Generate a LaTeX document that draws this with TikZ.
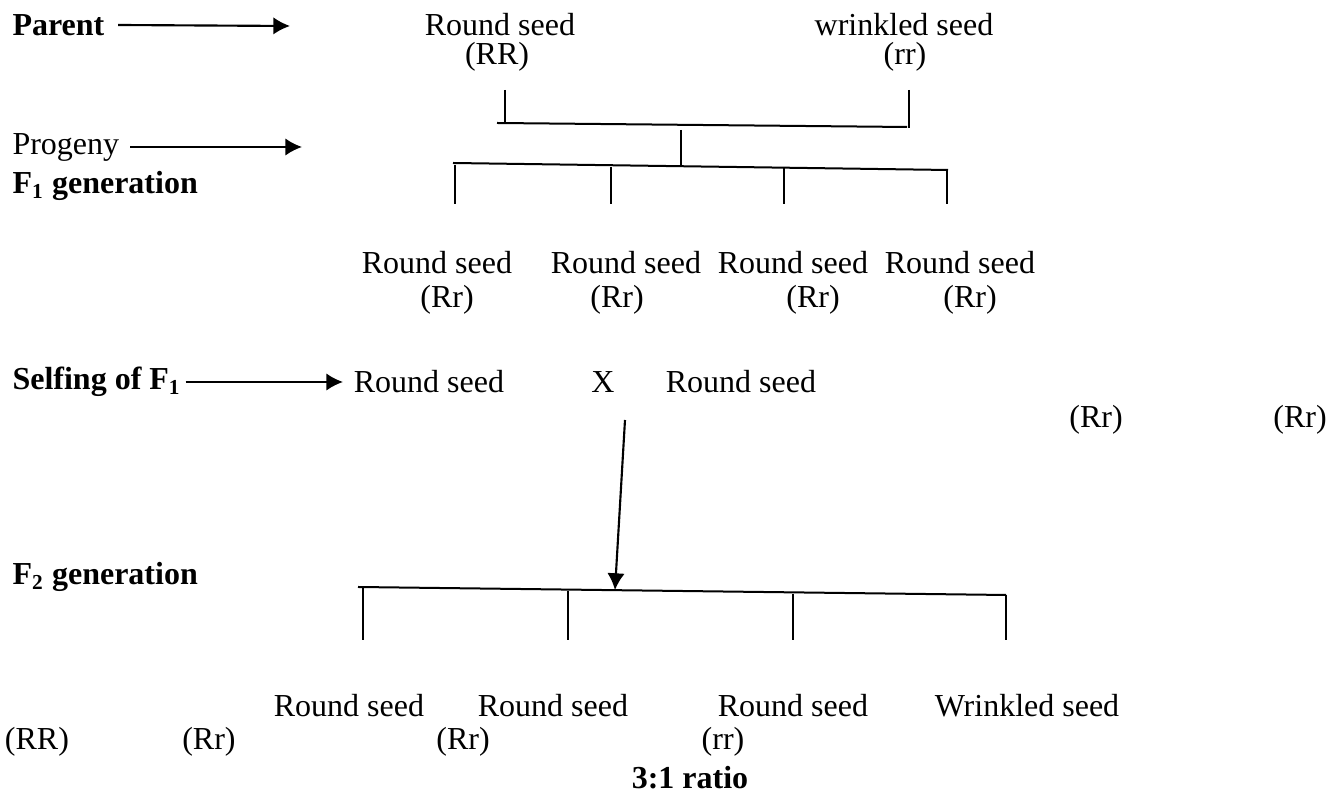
\documentclass[tikz,border=0pt]{standalone}
\usepackage{fontspec}
\setmainfont{Liberation Serif}
\usetikzlibrary{arrows.meta,positioning}
\newcommand\seedfont{\fontsize{12}{14}\selectfont}
\tikzset{
  every node/.style={font=\seedfont, inner sep=0pt},
  lbl/.style={anchor=west, font=\seedfont\bfseries},
  plain/.style={anchor=west},
  arr/.style={-{Latex[length=2.2mm,width=2.3mm]}, line width=0.8pt},
  ln/.style={line width=0.75pt},
}
\begin{document}
\begin{tikzpicture}[x=0.375pt, y=-0.375pt]
  \useasboundingbox (0,0) rectangle (1330,793);
  % left labels
  \node[lbl] (parent) at (12,25) {Parent};
  \node[plain] (progeny) at (12,147) {Progeny};
  \node[lbl] (fone) at (12,186) {F\textsubscript{1} generation};
  \node[lbl] (selfing) at (12,382) {Selfing of F\textsubscript{1}};
  \node[lbl] (ftwo) at (12,577) {F\textsubscript{2} generation};
  \coordinate (parentend) at (290,26);
  \coordinate (progend) at (302,147);
  \coordinate (selfend) at (343,382);
  \draw[arr] ([xshift=5pt]parent.east) -- (parentend);
  \draw[arr] ([xshift=4pt]progeny.east) -- (progend);
  \draw[arr] ([xshift=1.5pt]selfing.east) -- (selfend);

  % parents
  \node (rseed) at (500,25) {Round seed};
  \node (RR) at (497,57) {(RR)};
  \node (wseed) at (904,25) {wrinkled seed};
  \node (rr) at (905,57) {(rr)};
  \coordinate (pl) at (505,90);  \coordinate (plb) at (505,123);
  \coordinate (pr) at (909,90);  \coordinate (prb) at (909,128);
  \coordinate (barl) at (497,123); \coordinate (barr) at (907,127);
  \coordinate (stem) at (681,130); \coordinate (stemb) at (681,166);
  \draw[ln] (pl) -- (plb);
  \draw[ln] (pr) -- (prb);
  \draw[ln] (barl) -- (barr);
  \draw[ln] (stem) -- (stemb);

  % F1 offspring
  \coordinate (fbarl) at (453,163); \coordinate (fbarr) at (948,170);
  \draw[ln] (fbarl) -- (fbarr);
  \foreach \x/\yt in {455/165, 611/167, 784/168, 947/170}
    \draw[ln] (\x,\yt) -- (\x,204);
  \foreach \x/\xg [count=\i] in {437/447, 626/617, 793/813, 960/970} {
    \node (fs\i) at (\x,263) {Round seed};
    \node (fg\i) at (\xg,300) {(Rr)};
  }

  % selfing
  \node (sa) at (429,382) {Round seed};
  \node (cross) at (603,382) {X};
  \node (sb) at (741,382) {Round seed};
  \node (sga) at (1096,420) {(Rr)};
  \node (sgb) at (1300,420) {(Rr)};
  \coordinate (crossdown) at (625,420);
  \coordinate (ftwotop) at (615,590);
  \draw[arr] (crossdown) -- (ftwotop);

  % F2 offspring
  \coordinate (tbarl) at (358,587); \coordinate (tbarr) at (1006,595);
  \draw[ln] (tbarl) -- (tbarr);
  \foreach \x/\yt in {363/588, 568/591, 793/594, 1006/595}
    \draw[ln] (\x,\yt) -- (\x,640);
  \node (ts1) at (349,706) {Round seed};
  \node (ts2) at (553,706) {Round seed};
  \node (ts3) at (793,706) {Round seed};
  \node (ts4) at (1027,706) {Wrinkled seed};
  \node (tg1) at (37,742) {(RR)};
  \node (tg2) at (209,742) {(Rr)};
  \node (tg3) at (463,742) {(Rr)};
  \node (tg4) at (723,742) {(rr)};
  \node[font=\seedfont\bfseries] (ratio) at (690,778) {3:1 ratio};
\end{tikzpicture}
\end{document}
